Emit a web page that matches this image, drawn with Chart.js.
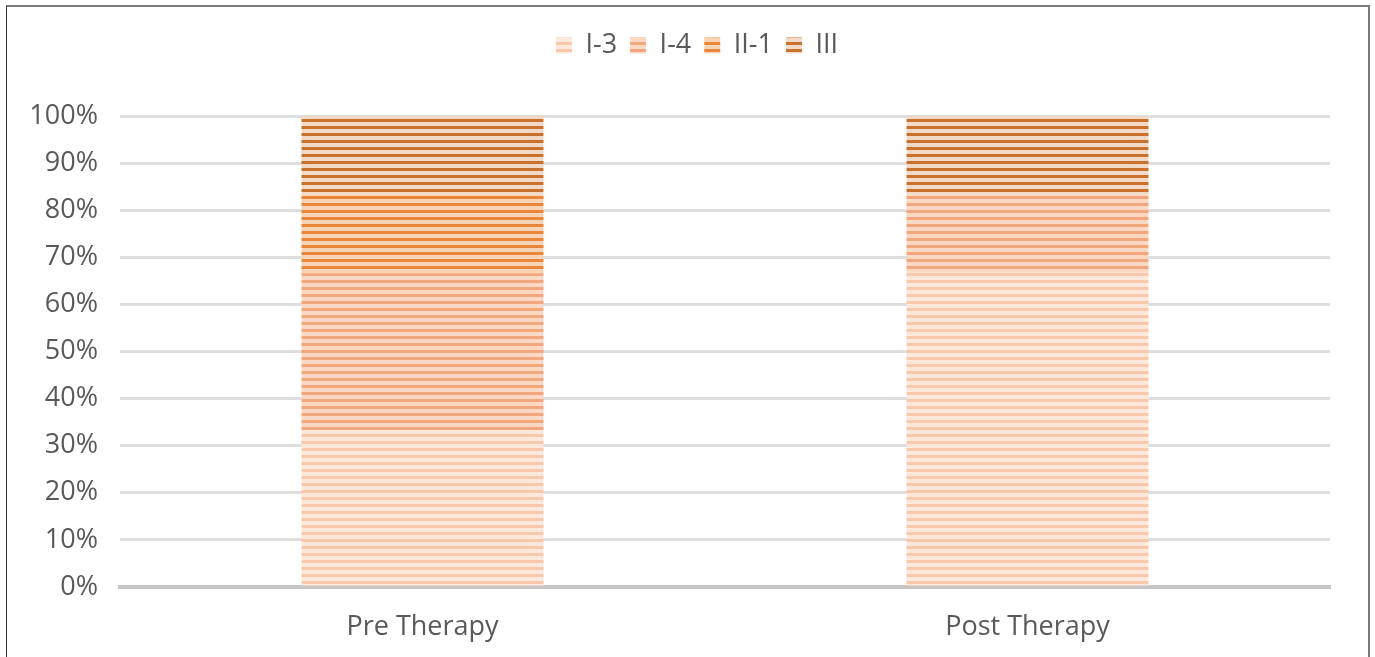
<!DOCTYPE html>
<html>
<head>
<meta charset="utf-8">
<script src="https://cdn.jsdelivr.net/npm/chart.js@4/dist/chart.umd.min.js"></script>
<style>
  html, body { margin: 0; padding: 0; background: #fff; overflow: hidden; }
  #frame {
    position: absolute; left: 6px; top: 5px; width: 1361px; height: 700px;
    border-left: 1px solid #333; border-top: 2px solid #7a7a7a; border-right: 2px solid #7a7a7a;
  }
  #wrap { position: absolute; left: 0; top: 0; width: 1375px; height: 657px; }
</style>
</head>
<body>
<div id="frame"></div>
<div id="wrap"><canvas id="grafico" width="1375" height="657"></canvas></div>
<script>
const categorias = ['Pre Therapy', 'Post Therapy'];
const series = ['I-3', 'I-4', 'II-1', 'III'];
const valoresI3 = [33.3, 66.7];
const valoresI4 = [33.3, 16.6];
const valoresII1 = [16.7, 0];
const valoresIII = [16.7, 16.7];
const ticksY = [0, 10, 20, 30, 40, 50, 60, 70, 80, 90, 100];

// stripe colours: [stripe, gap]
const cores = [
  ['#f8c7ac', '#fde8dc'],
  ['#f4a67c', '#fbd8c4'],
  ['#e9863a', '#f8d4b6'],
  ['#c8722e', '#f3dac6']
];

function listras(cor, fundo) {
  const c = document.createElement('canvas');
  c.width = 4;
  c.height = 7;
  const g = c.getContext('2d');
  g.fillStyle = fundo;
  g.fillRect(0, 0, 4, 7);
  g.fillStyle = cor;
  g.fillRect(0, 0, 4, 3);
  return g.createPattern(c, 'repeat');
}

const valores = [valoresI3, valoresI4, valoresII1, valoresIII];
const datasets = series.map((nome, i) => ({
  label: nome,
  data: valores[i],
  backgroundColor: listras(cores[i][0], cores[i][1]),
  borderWidth: 0,
  barPercentage: 0.4,
  categoryPercentage: 1
}));

const textoCor = '#595959';
const fonte = { family: '"Open Sans", sans-serif', size: 27 };

// extra room under the legend, and legend centred on the whole canvas
const ajusteLegenda = {
  id: 'ajusteLegenda',
  beforeInit(chart) {
    const fitOrig = chart.legend.fit;
    chart.legend.fit = function () {
      fitOrig.call(this);
      this.height += 47;
    };
  },
  afterLayout(chart) {
    chart.legend.left += 32;
    chart.legend.right += 32;
  }
};

new Chart(document.getElementById('grafico'), {
  type: 'bar',
  data: { labels: categorias, datasets: datasets },
  plugins: [ajusteLegenda],
  options: {
    responsive: false,
    animation: false,
    maintainAspectRatio: false,
    layout: { padding: { left: 0, right: 45, top: 19, bottom: 0 } },
    plugins: {
      legend: {
        position: 'top',
        labels: {
          color: textoCor,
          font: fonte,
          boxWidth: 16,
          boxHeight: 16,
          padding: 13
        }
      },
      tooltip: { enabled: false }
    },
    scales: {
      x: {
        stacked: true,
        grid: { display: false, drawTicks: false },
        border: { color: '#c6c6c6', width: 4 },
        ticks: { color: textoCor, font: fonte, padding: 24 },
        afterFit(s) { s.height = 70; }
      },
      y: {
        stacked: true,
        min: 0,
        max: 100,
        afterBuildTicks(s) { s.ticks = ticksY.map(v => ({ value: v })); },
        grid: { color: '#dedede', lineWidth: 3, drawTicks: false },
        border: { display: false },
        ticks: {
          color: textoCor,
          font: fonte,
          padding: 22,
          callback: v => v + '%'
        },
        afterFit(s) { s.width = 120; }
      }
    }
  }
});
</script>
</body>
</html>
